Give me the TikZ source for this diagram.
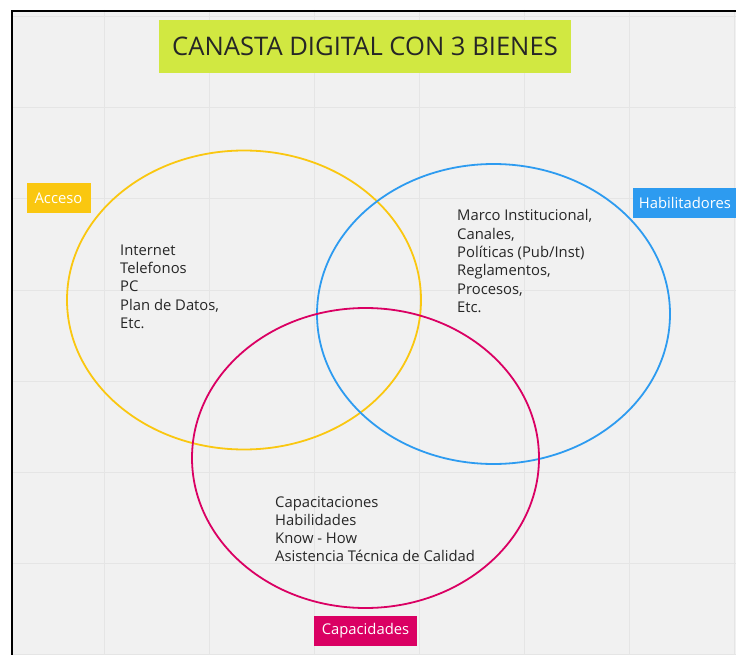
\documentclass[tikz,border=0pt]{standalone}
\usepackage{fontspec}
\setmainfont{Open Sans}
\definecolor{bg}{HTML}{F1F1F1}
\definecolor{gridc}{HTML}{E5E5E5}
\definecolor{lime}{HTML}{D1E841}
\definecolor{myyellow}{HTML}{FAC710}
\definecolor{myblue}{HTML}{2D9BF0}
\definecolor{mymag}{HTML}{DA0063}
\definecolor{txt}{HTML}{262626}
\begin{document}
\begin{tikzpicture}[x=1pt,y=-1pt,
  tagbox/.style={inner sep=0pt, text=white, font=\fontsize{14.8}{16}\selectfont, minimum height=30pt},
  bodytext/.style={inner sep=0pt, anchor=north west, align=left, text=txt, font=\fontsize{14.8}{18.3}\selectfont},
  ring/.style={line width=1.8pt}]
\useasboundingbox (0,0) rectangle (736,655);
\fill[white] (0,0) rectangle (736,655);
\fill[bg] (11,10) rectangle (736,655);
\foreach \gx in {104,209,314,419,524,629,734} \draw[gridc, line width=1pt] (\gx,10) -- (\gx,655);
\foreach \gy in {17,108,199,290,381,472,563,654} \draw[gridc, line width=1pt] (11,\gy) -- (736,\gy);
\draw[black, line width=2pt] (12,655) -- (12,11) -- (736,11);
% title
\node[fill=lime, minimum width=412pt, minimum height=53pt, inner sep=0pt, text=txt, font=\fontsize{25.6}{28}\selectfont] (title) at (365,46.5) {CANASTA DIGITAL CON 3 BIENES};
% rings
\draw[ring, myyellow] (244,300) ellipse [x radius=177, y radius=149.5];
\draw[ring, myblue] (493.5,314) ellipse [x radius=176.5, y radius=150];
\draw[ring, mymag] (365.5,458) ellipse [x radius=173.5, y radius=150];
% tags
\node[tagbox, fill=myyellow, minimum width=64pt] (acceso) at (58.5,198) {Acceso};
\node[tagbox, fill=myblue, minimum width=104pt] (habil) at (685,203) {Habilitadores};
\node[tagbox, fill=mymag, minimum width=103pt] (capac) at (365.5,630.5) {Capacidades};
% texts
\node[bodytext] (acctext) at (120,244.5) {Internet\\Telefonos\\PC\\Plan de Datos,\\Etc.};
\node[bodytext] (habtext) at (457,209.5) {Marco Institucional,\\Canales,\\Políticas (Pub/Inst)\\Reglamentos,\\Procesos,\\Etc.};
\node[bodytext] (captext) at (275,496) {Capacitaciones\\Habilidades\\Know - How\\Asistencia Técnica de Calidad};
\end{tikzpicture}
\end{document}
